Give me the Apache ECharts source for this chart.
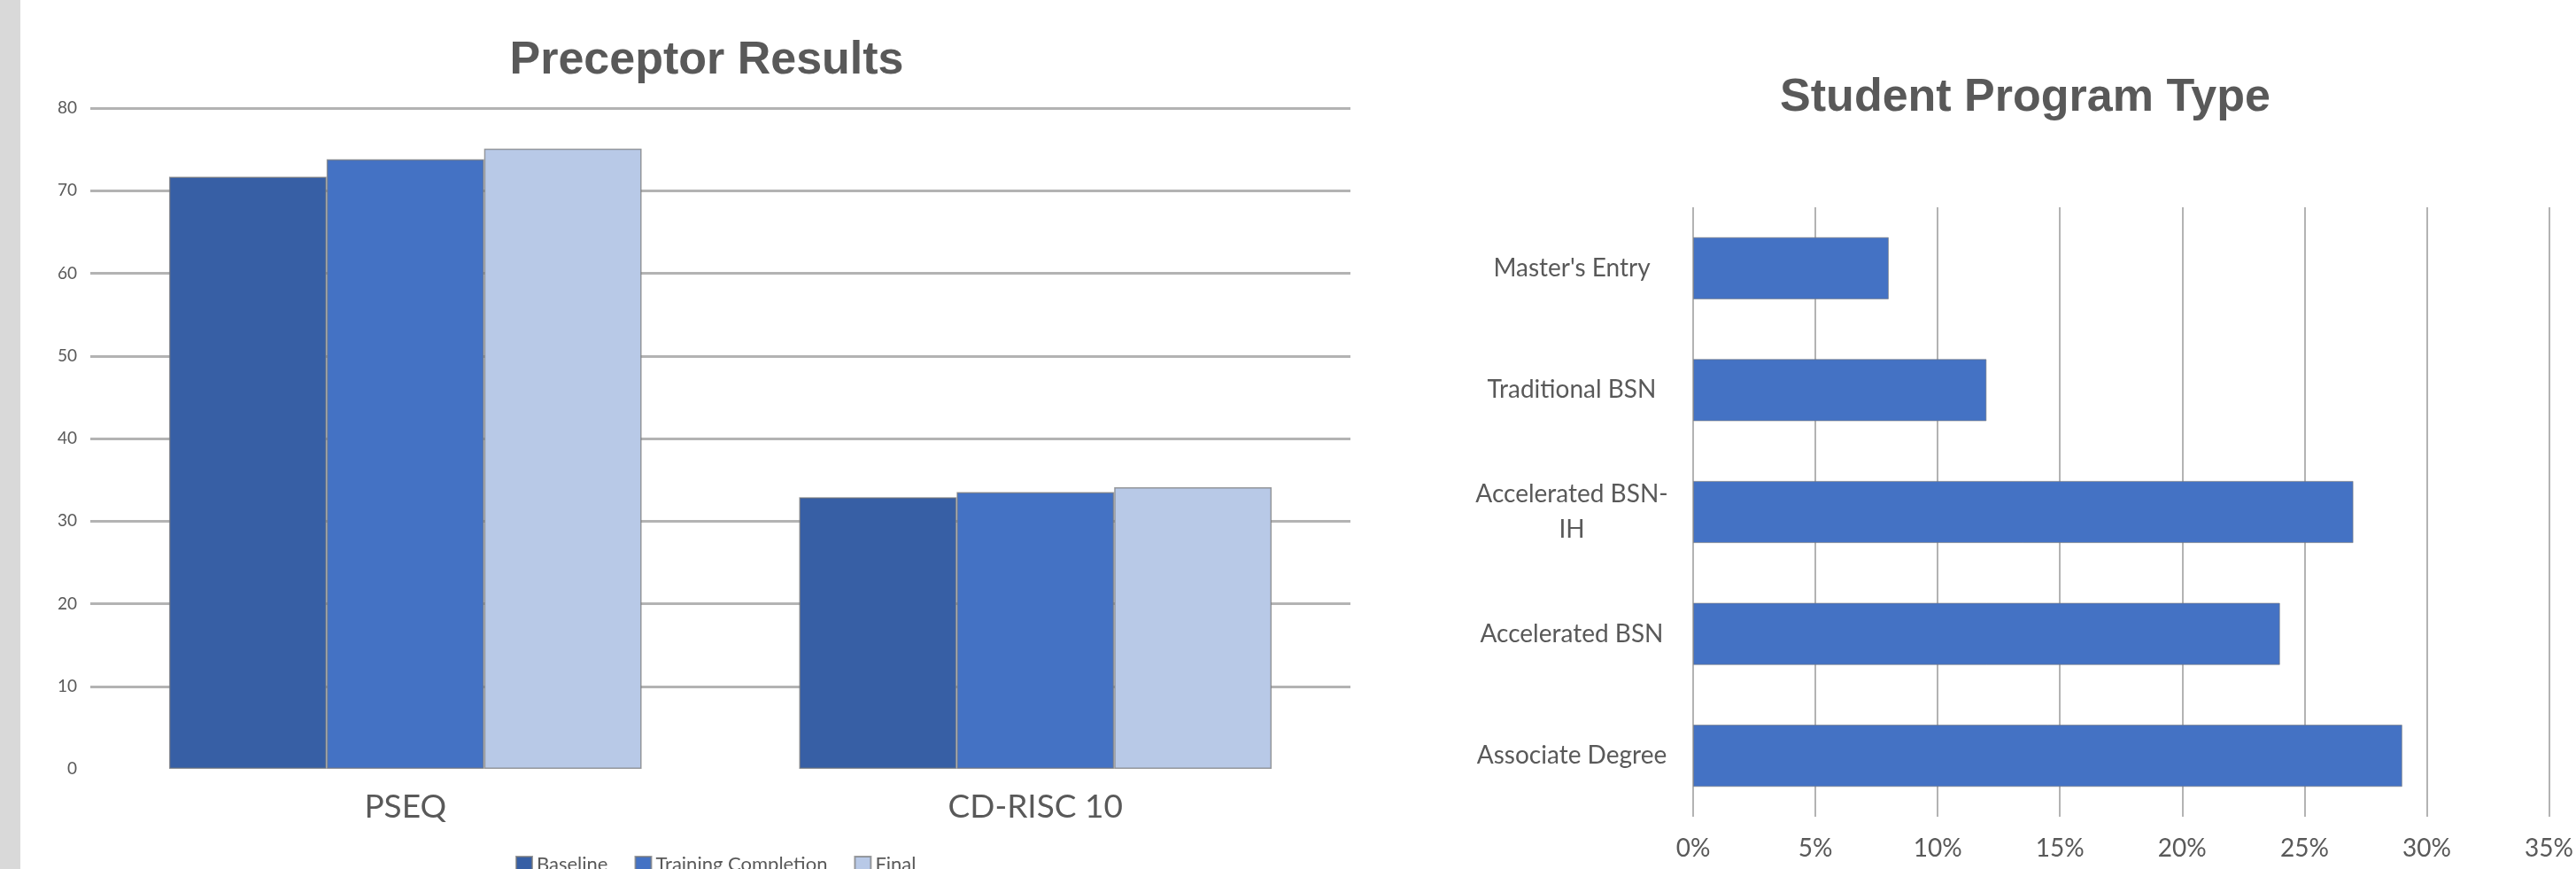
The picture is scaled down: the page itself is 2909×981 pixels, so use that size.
<!DOCTYPE html>
<html>
<head>
<meta charset="utf-8">
<script src="https://cdn.jsdelivr.net/npm/echarts@6/dist/echarts.min.js"></script>
<style>
  html, body { margin: 0; padding: 0; background: #fff; }
  #chart { width: 2909px; height: 981px; }
</style>
</head>
<body>
<div id="chart"></div>
<script>
// 左图：Preceptor Results
const measures = ["PSEQ", "CD-RISC 10"]
const baseline = [71.7, 32.9]
const trainingCompletion = [73.8, 33.5]
const finalScores = [75.1, 34.1]
const scoreTicks = { min: 0, max: 80, interval: 10 }

// 右图：Student Program Type（自下而上）
const programs = ["Associate Degree", "Accelerated BSN", "Accelerated BSN-IH", "Traditional BSN", "Master's Entry"]
const programShare = [29, 24, 27, 12, 8]
const shareTicks = { min: 0, max: 35, interval: 5 }

const textGray = "#595959"
const gridGray = "#b3b3b3"
const labelFont = "Lato, 'Open Sans', sans-serif"
const titleFont = "'Liberation Sans', Arial, sans-serif"

const chart = echarts.init(document.getElementById("chart"))

function scoreBar(name, data, color) {
  return {
    name,
    type: "bar",
    xAxisIndex: 0,
    yAxisIndex: 0,
    data,
    barGap: "0%",
    barCategoryGap: "25%",
    itemStyle: { color, borderColor: "rgba(120,120,120,0.7)", borderWidth: 1.5 }
  }
}

const option = {
  backgroundColor: "#ffffff",
  animation: false,
  graphic: [
    { type: "rect", shape: { x: 0, y: 0, width: 23, height: 981 }, style: { fill: "#d9d9d9" } }
  ],
  title: [
    {
      text: "Preceptor Results",
      left: 793,
      top: 38,
      textAlign: "center",
      textStyle: { fontFamily: titleFont, fontWeight: "bold", fontSize: 52, lineHeight: 52, color: textGray }
    },
    {
      text: "Student Program Type",
      left: 2282,
      top: 80,
      textAlign: "center",
      textStyle: { fontFamily: titleFont, fontWeight: "bold", fontSize: 52, lineHeight: 52, color: textGray }
    }
  ],
  legend: {
    data: ["Baseline", "Training Completion", "Final"],
    left: 582,
    top: 965,
    padding: 0,
    icon: "rect",
    itemWidth: 18,
    itemHeight: 18,
    itemGap: 30,
    textStyle: { fontFamily: labelFont, fontSize: 22, color: textGray }
  },
  grid: [
    { left: 102, top: 122, width: 1423, height: 746 },
    { left: 1912, top: 234, width: 977, height: 688 }
  ],
  xAxis: [
    {
      type: "category",
      gridIndex: 0,
      data: measures,
      axisLine: { show: false },
      axisTick: { show: false },
      axisLabel: { fontFamily: labelFont, fontSize: 37, lineHeight: 37, color: textGray, margin: 25 }
    },
    {
      type: "value",
      gridIndex: 1,
      min: shareTicks.min,
      max: shareTicks.max,
      interval: shareTicks.interval,
      axisLine: { show: false },
      axisTick: { show: false },
      splitLine: { show: true, showMinLine: true, showMaxLine: true, lineStyle: { color: gridGray, width: 2 } },
      axisLabel: { formatter: "{value}%", fontFamily: labelFont, fontSize: 28, lineHeight: 28, color: textGray, margin: 22 }
    }
  ],
  yAxis: [
    {
      type: "value",
      gridIndex: 0,
      min: scoreTicks.min,
      max: scoreTicks.max,
      interval: scoreTicks.interval,
      axisLine: { show: false },
      axisTick: { show: false },
      splitLine: { show: true, showMinLine: false, lineStyle: { color: gridGray, width: 3 } },
      axisLabel: { fontFamily: labelFont, fontSize: 19, color: textGray, margin: 15 }
    },
    {
      type: "category",
      gridIndex: 1,
      data: programs,
      axisLine: { show: false },
      axisTick: { show: false },
      splitLine: { show: false },
      axisLabel: {
        align: "center",
        margin: 137,
        fontFamily: labelFont,
        fontSize: 28,
        lineHeight: 40,
        color: textGray,
        formatter: (v) => v.replace("BSN-IH", "BSN-\nIH")
      }
    }
  ],
  series: [
    scoreBar("Baseline", baseline, "#375fa5"),
    scoreBar("Training Completion", trainingCompletion, "#4472c4"),
    scoreBar("Final", finalScores, "#b8c9e7"),
    {
      name: "Program Type",
      type: "bar",
      xAxisIndex: 1,
      yAxisIndex: 1,
      data: programShare,
      barCategoryGap: "49%",
      itemStyle: { color: "#4472c4", borderColor: "rgba(120,120,120,0.6)", borderWidth: 1 }
    }
  ]
}

chart.setOption(option)
</script>
</body>
</html>
